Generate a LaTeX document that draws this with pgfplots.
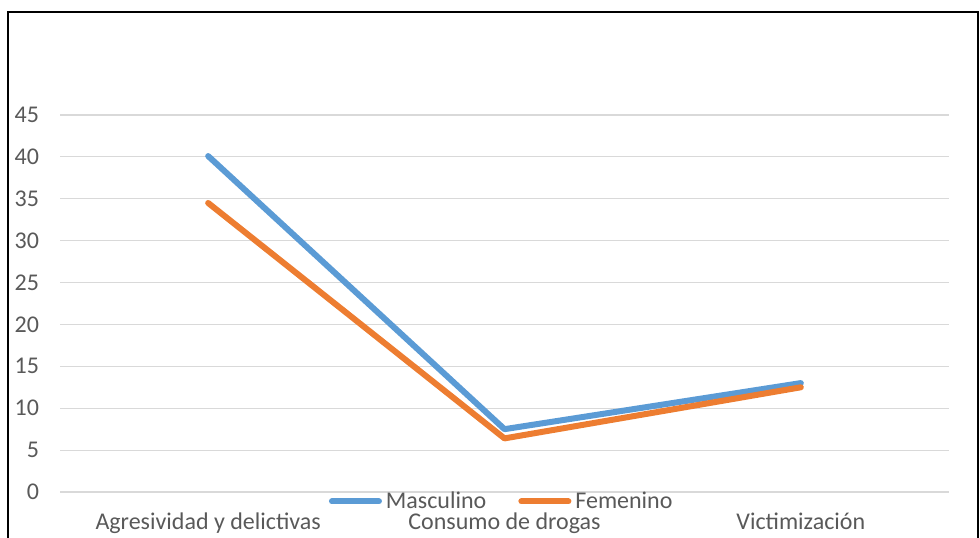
\documentclass[border=0pt]{standalone}
\usepackage{pgfplots}
\pgfplotsset{compat=1.18}
\usepackage{fontspec}
\setmainfont{Carlito}
\definecolor{mblue}{HTML}{5B9BD5}
\definecolor{forange}{HTML}{ED7D31}
\definecolor{gridc}{HTML}{D9D9D9}
\definecolor{txt}{HTML}{595959}
\begin{document}
\begin{tikzpicture}
\useasboundingbox (0,0) rectangle (490pt,268.5pt);
\draw[black, line width=0.8pt] (4pt,-10pt) -- (4pt,262.5pt) -- (489pt,262.5pt) -- (489pt,-10pt);
\begin{axis}[
  at={(30pt,22.5pt)}, anchor=south west,
  scale only axis, width=444.5pt, height=188.5pt,
  xmin=-0.5, xmax=2.5, ymin=0, ymax=45,
  xtick={0,1,2},
  xticklabels={Agresividad y delictivas, Consumo de drogas, Victimización},
  ytick={0,5,...,45},
  ymajorgrids, grid style={gridc, line width=0.6pt},
  axis line style={draw=none},
  major tick length=0pt,
  /pgf/number format/assume math mode=true,
  tick label style={font=\fontsize{12}{14}\selectfont, text=txt},
  yticklabel style={anchor=east, xshift=-7pt},
  xticklabel style={anchor=base, yshift=-18.8pt, inner ysep=0pt},
  legend style={at={(0.498,-0.025)}, anchor=center, draw=none, fill=none,
    font=\fontsize{12}{14}\selectfont, text=txt, inner sep=0pt,
    nodes={inner ysep=0pt},
    /tikz/every even column/.append style={column sep=14pt}},
  legend columns=2,
  legend image code/.code={\draw[#1, line cap=round] (1.5pt,0pt) -- (25pt,0pt);},
  clip=false,
]
\addplot[mblue, line width=3pt, line cap=round, line join=round] coordinates {(0,40.1) (1,7.5) (2,13.0)};
\addlegendentry{Masculino}
\addplot[forange, line width=3pt, line cap=round, line join=round] coordinates {(0,34.5) (1,6.4) (2,12.5)};
\addlegendentry{Femenino}
\end{axis}
\end{tikzpicture}
\end{document}
